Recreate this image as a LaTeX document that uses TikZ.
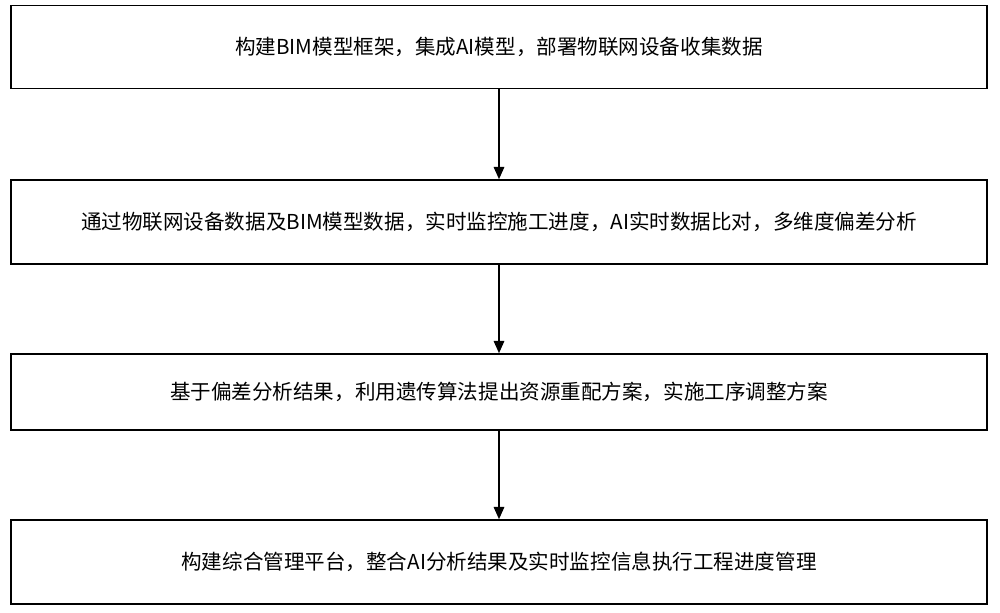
\documentclass[tikz,border=0pt]{standalone}
\usepackage{fontspec}
\setmainfont{Noto Sans CJK SC}
\usetikzlibrary{arrows.meta}
\begin{document}
\begin{tikzpicture}[x=0.02cm,y=-0.02cm,
  stepbox/.style={draw=black,line width=0.9pt,minimum width=976*0.02cm,inner sep=0pt,font=\fontsize{11.7}{13}\selectfont},
  arr/.style={-{Triangle[length=7pt,width=6pt]},line width=0.9pt}]
\useasboundingbox (0,0) rectangle (1000,612);
\node[stepbox,minimum height=83*0.02cm] (a) at (499,47) {构建BIM模型框架，集成AI模型，部署物联网设备收集数据};
\node[stepbox,minimum height=84*0.02cm] (b) at (499,222) {通过物联网设备数据及BIM模型数据，实时监控施工进度，AI实时数据比对，多维度偏差分析};
\node[stepbox,minimum height=76*0.02cm] (c) at (499,392) {基于偏差分析结果，利用遗传算法提出资源重配方案，实施工序调整方案};
\node[stepbox,minimum height=84*0.02cm] (d) at (499,562) {构建综合管理平台，整合AI分析结果及实时监控信息执行工程进度管理};
\draw[arr] (a) -- (b);
\draw[arr] (b) -- (c);
\draw[arr] (c) -- (d);
\end{tikzpicture}
\end{document}
